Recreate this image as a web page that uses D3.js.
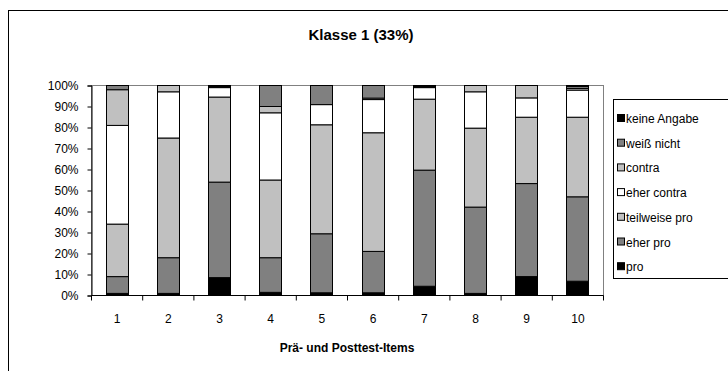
<!DOCTYPE html>
<html>
<head>
<meta charset="utf-8">
<script src="https://cdn.jsdelivr.net/npm/d3@7"></script>
<style>
  body { margin: 0; background: #fff; }
  svg { display: block; font-family: "Liberation Sans", Arial, sans-serif; }
</style>
</head>
<body>
<svg id="chart" width="728" height="371"></svg>
<script>
// ---- data ----
const categories = ["1", "2", "3", "4", "5", "6", "7", "8", "9", "10"];
const seriesNames = ["pro", "eher pro", "teilweise pro", "eher contra", "contra", "weiß nicht", "keine Angabe"];
const pro          = [1.0, 1.0, 8.5, 1.5, 1.3, 1.3, 4.4, 1.0, 9.0, 6.8];
const eherPro      = [8.0, 17.0, 45.5, 16.5, 28.1, 19.7, 55.3, 41.1, 44.3, 40.2];
const teilweisePro = [25.0, 57.0, 40.5, 37.0, 51.9, 56.5, 33.8, 37.6, 31.6, 37.9];
const eherContra   = [47.0, 22.0, 4.5, 32.0, 9.6, 15.8, 5.5, 17.3, 9.2, 12.9];
const contra       = [17.0, 3.0, 0.5, 3.0, 0.0, 0.7, 0.5, 3.0, 5.9, 0.8];
const weissNicht   = [2.0, 0.0, 0.5, 10.0, 9.1, 6.0, 0.5, 0.0, 0.0, 1.0];
const keineAngabe  = [0.0, 0.0, 0.0, 0.0, 0.0, 0.0, 0.0, 0.0, 0.0, 0.4];
const yTicks = [0, 10, 20, 30, 40, 50, 60, 70, 80, 90, 100];
const title = "Klasse 1 (33%)";
const xTitle = "Prä- und Posttest-Items";

const seriesValues = [pro, eherPro, teilweisePro, eherContra, contra, weissNicht, keineAngabe];
const colors = ["#000000", "#808080", "#c0c0c0", "#ffffff", "#c0c0c0", "#808080", "#000000"];

const rows = categories.map((c, i) => {
  const r = { cat: c };
  seriesNames.forEach((s, j) => r[s] = seriesValues[j][i]);
  const tot = seriesNames.reduce((a, s) => a + r[s], 0);
  seriesNames.forEach(s => r[s] = r[s] / tot * 100);
  return r;
});
const stacked = d3.stack().keys(seriesNames)(rows);

const svg = d3.select("#chart");
const plot = { left: 91, right: 603, top: 85, bottom: 295 };

// outer chart border
svg.append("rect").attr("x", 8.5).attr("y", 10.5).attr("width", 740).attr("height", 380)
  .attr("fill", "#fff").attr("stroke", "#000").attr("stroke-width", 1);

// title
svg.append("text").attr("x", 361).attr("y", 40).attr("text-anchor", "middle")
  .attr("font-size", 15).attr("font-weight", "bold").text(title);

const x = d3.scaleBand().domain(categories).range([plot.left, plot.right]).paddingInner(0.57).paddingOuter(0.285);
const xb = d3.scaleBand().domain(categories).range([plot.left, plot.right]);
const y = d3.scaleLinear().domain([0, 100]).range([plot.bottom, plot.top]);

// plot area border (gray top/right)
svg.append("rect").attr("x", plot.left + 0.5).attr("y", plot.top + 0.5)
  .attr("width", plot.right - plot.left).attr("height", plot.bottom - plot.top)
  .attr("fill", "none").attr("stroke", "#808080").attr("stroke-width", 1);

// bars
svg.append("g").selectAll("g").data(stacked).join("g")
  .attr("fill", (d, i) => colors[i])
  .selectAll("rect").data(d => d).join("rect")
  .attr("x", d => Math.round(x(d.data.cat)) + 0.5)
  .attr("width", Math.round(x.bandwidth()))
  .attr("y", d => y(d[1]) + 0.5)
  .attr("height", d => Math.max(0, y(d[0]) - y(d[1])))
  .attr("stroke", "#000").attr("stroke-width", 1);

// y axis
const yAxis = d3.axisLeft(y).tickValues(yTicks).tickFormat(d => d + "%").tickSize(4).tickPadding(9);
const gy = svg.append("g").attr("transform", `translate(${plot.left + 0.5},0.5)`).call(yAxis);
gy.select(".domain").attr("stroke", "#000");
gy.selectAll("line").attr("stroke", "#000");
gy.selectAll("text").attr("font-size", 12).attr("font-family", "Liberation Sans, Arial, sans-serif").attr("fill", "#000");

// x axis
const gx = svg.append("g").attr("transform", `translate(0.5,${plot.bottom + 0.5})`);
gx.append("line").attr("x1", plot.left).attr("x2", plot.right).attr("stroke", "#000");
const bounds = categories.map(c => xb(c)).concat([plot.right]);
gx.selectAll("line.tick").data(bounds).join("line").attr("class", "tick")
  .attr("x1", d => d).attr("x2", d => d).attr("y1", 0).attr("y2", 5).attr("stroke", "#000");
gx.selectAll("text").data(categories).join("text")
  .attr("x", d => xb(d) + xb.bandwidth() / 2).attr("y", 27)
  .attr("text-anchor", "middle").attr("font-size", 12).text(d => d);

// x title
svg.append("text").attr("x", (plot.left + plot.right) / 2).attr("y", 352)
  .attr("text-anchor", "middle").attr("font-size", 12).attr("font-weight", "bold").text(xTitle);

// legend
const lg = svg.append("g");
lg.append("rect").attr("x", 613.5).attr("y", 99.5).attr("width", 140).attr("height", 179)
  .attr("fill", "#fff").attr("stroke", "#000");
const legendOrder = seriesNames.map((s, i) => i).reverse();
legendOrder.forEach((si, k) => {
  const yy = 119 + k * 24.7;
  lg.append("rect").attr("x", 617.5).attr("y", yy - 4.5).attr("width", 7).attr("height", 7)
    .attr("fill", colors[si]).attr("stroke", "#000");
  lg.append("text").attr("x", 626).attr("y", yy + 4).attr("font-size", 12).text(seriesNames[si]);
});
</script>
</body>
</html>
